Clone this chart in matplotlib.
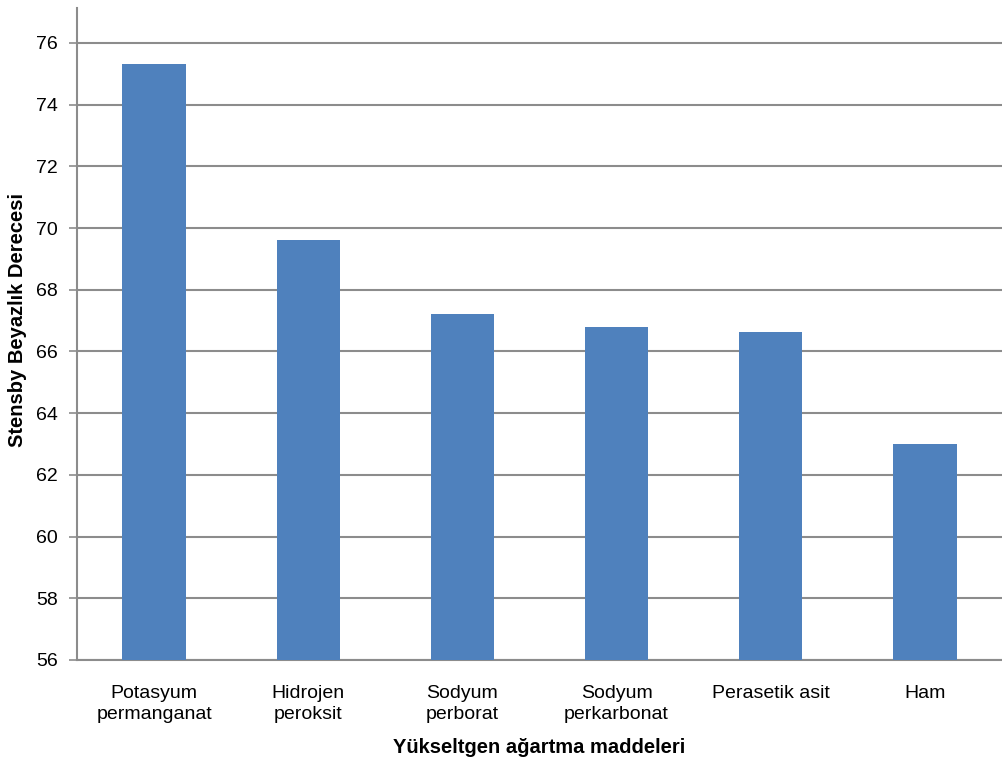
import matplotlib.pyplot as plt
import numpy as np

plt.rcParams['font.family'] = ['Liberation Sans', 'DejaVu Sans']

categories = ['Potasyum\npermanganat', 'Hidrojen\nperoksit', 'Sodyum\nperborat',
              'Sodyum\nperkarbonat', 'Perasetik asit', 'Ham']
values = [75.32, 69.61, 67.2, 66.8, 66.64, 63.0]
yticks = [56, 58, 60, 62, 64, 66, 68, 70, 72, 74, 76]

fig = plt.figure(figsize=(10.03, 7.63), dpi=100)
ax = fig.add_axes([77/1003, 1 - 660/763, 925/1003, 652/763])

x = np.arange(len(categories))
ax.bar(x, values, width=0.41, color='#4f81bd', zorder=3)
ax.set_xlim(-0.5, len(categories) - 0.5)
ax.set_ylim(56, 77.13)
ax.set_yticks(yticks)
ax.set_xticks(x)
ax.set_xticklabels(categories, fontsize=14, linespacing=1.3)
ax.tick_params(axis='y', labelsize=14, length=6, width=1.2, color='#8c8c8c', pad=8)
ax.tick_params(axis='x', length=0, pad=18)

ax.grid(axis='y', color='#8c8c8c', linewidth=1.5, zorder=0)
for side in ['top', 'right']:
    ax.spines[side].set_visible(False)
for side in ['left', 'bottom']:
    ax.spines[side].set_color('#8c8c8c')
    ax.spines[side].set_linewidth(1.5)

ax.set_ylabel('Stensby Beyazlık Derecesi', fontsize=14.5, fontweight='bold')
ax.yaxis.set_label_coords(-50/925, (660 - 320) / 652)
ax.set_xlabel('Yükseltgen ağartma maddeleri', fontsize=14.5, fontweight='bold', labelpad=11)

fig.savefig('out.png', dpi=100)
